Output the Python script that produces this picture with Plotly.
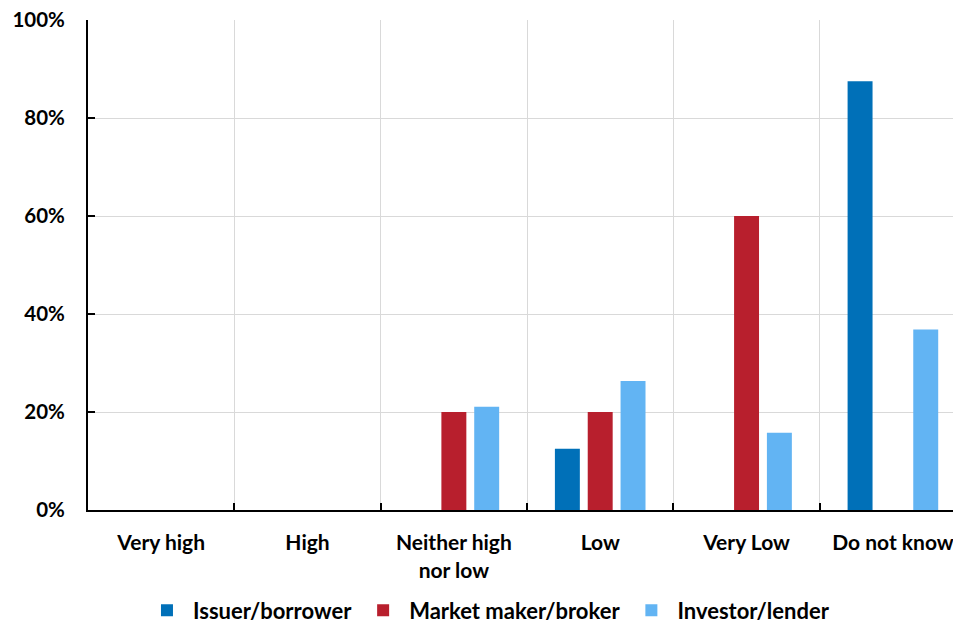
import plotly.graph_objects as go

categories = ["Very high", "High", "Neither high<br>nor low", "Low", "Very Low", "Do not know"]
issuer = [0, 0, 0, 12.5, 0, 87.5]
market_maker = [0, 0, 20, 20, 60, 0]
investor = [0, 0, 21.05, 26.32, 15.79, 36.84]
series_names = ["Issuer/borrower", "Market maker/broker", "Investor/lender"]
colors = ["#0070B8", "#B81F2D", "#62B4F3"]
y_ticks = [0, 20, 40, 60, 80, 100]
y_tick_labels = ["0%", "20%", "40%", "60%", "80%", "100%"]

FONT = "Lato, 'Open Sans', sans-serif"
FSX = 21
FSL = 22
FSY = 20.5

fig = go.Figure()
for name, vals, col in zip(series_names, [issuer, market_maker, investor], colors):
    fig.add_trace(go.Bar(x=list(range(len(categories))), y=vals, name=f"<b>{name}</b>",
                         marker=dict(color=col, line=dict(width=0))))

fig.update_layout(
    width=961, height=623,
    margin=dict(l=80, r=0, t=12, b=121, autoexpand=False),
    paper_bgcolor="white", plot_bgcolor="white",
    barmode="group", bargap=0.327, bargroupgap=0.24,
    font=dict(family=FONT, size=FSX, color="black"),
    showlegend=True,
    legend=dict(orientation="h", x=0.454, xanchor="center", y=-0.205, yanchor="middle",
                font=dict(family=FONT, size=FSL, color="black"),
                itemwidth=42, traceorder="normal"),
)

fig.update_xaxes(
    range=[-0.5, 5.52], automargin=False,
    tickmode="array", tickvals=list(range(len(categories))), ticktext=[f"<b>{c}</b>" for c in categories],
    showgrid=False, ticks="", showline=True, linecolor="black", linewidth=2,
    tickfont=dict(family=FONT, size=FSX, color="black"),
    ticklabelstandoff=13, zeroline=False, ticklabeloverflow="allow",
    minor=dict(tickmode="array", tickvals=[0.5, 1.5, 2.5, 3.5, 4.5], showgrid=True,
               gridcolor="#D9D9D9", gridwidth=1, ticks="inside", ticklen=7,
               tickcolor="black", tickwidth=2),
)
fig.update_yaxes(
    range=[0, 100], automargin=False, tickmode="array", tickvals=y_ticks,
    ticktext=[f"<b>{t}</b>" for t in y_tick_labels],
    showgrid=True, gridcolor="#D9D9D9", gridwidth=1,
    ticks="inside", ticklen=7, tickcolor="black", tickwidth=2,
    showline=True, linecolor="black", linewidth=2, zeroline=False,
    tickfont=dict(family=FONT, size=FSY, color="black"),
    ticklabelstandoff=17, ticklabeloverflow="allow",
)

fig.write_html("out.html")
